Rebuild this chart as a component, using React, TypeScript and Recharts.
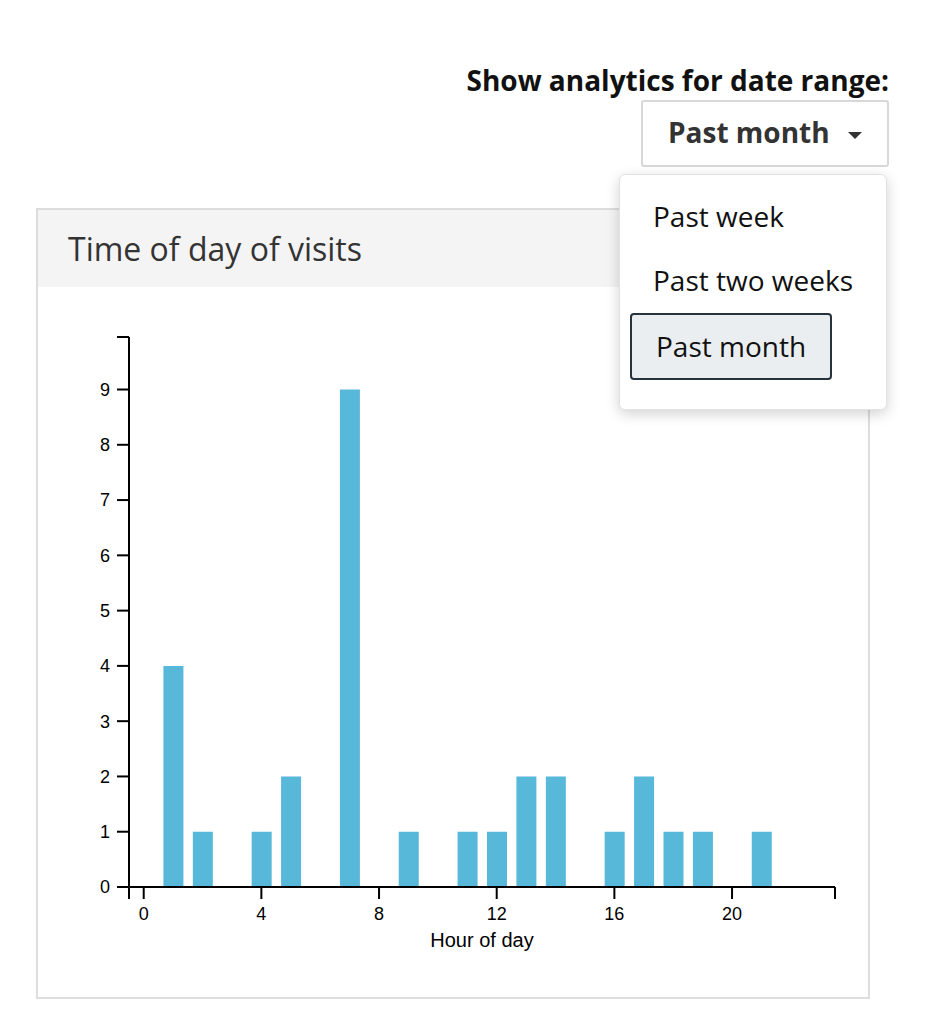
import { BarChart, Bar, XAxis, YAxis, Label } from "recharts";

// hours of the day with visits, and visit counts
const hours = [1, 2, 4, 5, 7, 9, 11, 12, 13, 14, 16, 17, 18, 19, 21];
const visits = [4, 1, 1, 2, 9, 1, 1, 1, 2, 2, 1, 2, 1, 1, 1];

const xTicks = [0, 4, 8, 12, 16, 20];
const yTicks = [0, 1, 2, 3, 4, 5, 6, 7, 8, 9];
const xDomain: [number, number] = [-0.5, 23.5];
const yDomain: [number, number] = [0, 9.95];

const rangeOptions = ["Past week", "Past two weeks", "Past month"];
const selectedRange = "Past month";

const data = hours.map((h, i) => ({ hour: h, visits: visits[i] }));

const axisFont = { fontFamily: "'Liberation Sans', Arial, sans-serif", fontSize: 18, fill: "#000" };
const line = { stroke: "#000", strokeWidth: 2 };

export default function App() {
  return (
    <div
      style={{
        position: "absolute",
        left: 0,
        top: 0,
        width: 933,
        height: 1017,
        background: "#fff",
        fontFamily: "'Open Sans', sans-serif",
      }}
    >
      {/* date range picker */}
      <div
        style={{
          position: "absolute",
          right: 44,
          top: 60,
          fontSize: 28,
          fontWeight: 700,
          color: "#111",
          whiteSpace: "nowrap",
          lineHeight: "40px",
        }}
      >
        Show analytics for date range:
      </div>
      <div
        style={{
          position: "absolute",
          left: 641,
          top: 100,
          width: 244,
          height: 63,
          border: "2px solid #d8d8d8",
          borderRadius: 3,
          boxSizing: "content-box",
        }}
      >
        <span
          style={{
            position: "absolute",
            left: 25,
            top: 10,
            fontSize: 28,
            fontWeight: 700,
            color: "#333",
            lineHeight: "40px",
            whiteSpace: "nowrap",
          }}
        >
          {selectedRange}
        </span>
        <span
          style={{
            position: "absolute",
            left: 205,
            top: 30,
            width: 0,
            height: 0,
            borderLeft: "7px solid transparent",
            borderRight: "7px solid transparent",
            borderTop: "7px solid #333",
          }}
        />
      </div>

      {/* card */}
      <div
        style={{
          position: "absolute",
          left: 36,
          top: 208,
          width: 830,
          height: 787,
          border: "2px solid #dddddd",
          boxSizing: "content-box",
        }}
      >
        <div
          style={{
            height: 77,
            background: "#f4f4f4",
            fontSize: 32,
            color: "#333",
            paddingLeft: 30,
            lineHeight: "78px",
          }}
        >
          Time of day of visits
        </div>
      </div>

      <div style={{ position: "absolute", left: 40, top: 300 }}>
        <BarChart
          width={820}
          height={680}
          data={data}
          barSize={20}
          margin={{ top: 37, right: 25, left: 29, bottom: 23 }}
        >
          <XAxis
            dataKey="hour"
            type="number"
            domain={xDomain}
            ticks={[xDomain[0], ...xTicks, xDomain[1]]}
            tickFormatter={(v) => (xTicks.includes(v) ? String(v) : "")}
            interval={0}
            allowDataOverflow
            height={70}
            tickSize={12}
            tickMargin={8}
            axisLine={line}
            tickLine={line}
            tick={axisFont}
          >
            <Label
              value="Hour of day"
              position="insideBottom"
              offset={10}
              style={{ fontFamily: "'Liberation Sans', Arial, sans-serif", fontSize: 20, fill: "#000" }}
            />
          </XAxis>
          <YAxis
            type="number"
            domain={yDomain}
            ticks={[...yTicks, yDomain[1]]}
            tickFormatter={(v) => (yTicks.includes(v) ? String(v) : "")}
            interval={0}
            allowDataOverflow
            width={60}
            tickSize={12}
            tickMargin={7}
            axisLine={line}
            tickLine={line}
            tick={axisFont}
          />
          <Bar dataKey="visits" fill="#57b8d9" isAnimationActive={false} />
        </BarChart>
      </div>

      {/* open dropdown menu */}
      <div
        style={{
          position: "absolute",
          left: 619,
          top: 174,
          width: 268,
          height: 236,
          background: "#fff",
          border: "1px solid #e2e2e2",
          borderRadius: 6,
          boxShadow: "0 4px 14px rgba(0,0,0,0.18)",
          boxSizing: "border-box",
          zIndex: 5,
        }}
      >
        {rangeOptions.map((opt, i) => {
          const selected = opt === selectedRange;
          return (
            <div
              key={opt}
              style={{
                position: "absolute",
                left: selected ? 10 : 33,
                top: selected ? 138 : 21 + i * 64,
                width: selected ? 202 : undefined,
                height: selected ? 67 : 40,
                paddingLeft: selected ? 24 : 0,
                boxSizing: "border-box",
                background: selected ? "#ebeef0" : "transparent",
                border: selected ? "2px solid #27323c" : "none",
                borderRadius: 4,
                fontSize: 28,
                color: "#111",
                lineHeight: selected ? "63px" : "40px",
                whiteSpace: "nowrap",
              }}
            >
              {opt}
            </div>
          );
        })}
      </div>
    </div>
  );
}
